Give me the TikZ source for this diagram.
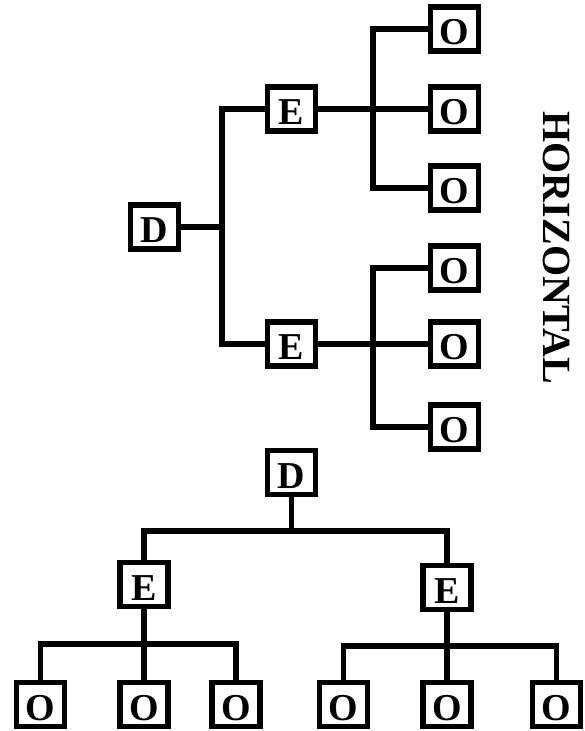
\documentclass[tikz,border=0pt]{standalone}
\usepackage{fontspec}
\setmainfont{Liberation Serif}
\begin{document}
\begin{tikzpicture}[x=1pt,y=-1pt,
  box/.style={draw, line width=5.2pt, minimum width=48pt, minimum height=44pt, inner sep=0pt,
    font=\bfseries\fontsize{38}{38}\selectfont, text height=31pt, text depth=0pt},
  conn/.style={line width=5.2pt, line join=miter}]
\useasboundingbox (0,0) rectangle (584,731);
% horizontal tree
\node[box] (D1) at (154.5,227) {D};
\node[box] (E1) at (291.5,109) {E};
\node[box] (E2) at (291.5,344) {E};
\node[box] (O1) at (454.5,29) {O};
\node[box] (O2) at (454.5,109) {O};
\node[box] (O3) at (454.5,188) {O};
\node[box] (O4) at (454.5,268) {O};
\node[box] (O5) at (454.5,344) {O};
\node[box] (O6) at (454.5,427) {O};
\coordinate (tj) at (222,227);
\coordinate (b1) at (373,109);
\coordinate (b2) at (373,344);
\draw[conn] (D1.east) -- (D1.east -| tj);
\draw[conn] (E1.west) -- (E1.west -| tj) -- (E2.west -| tj) -- (E2.west);
\draw[conn] (E1.east) -- (O2.west);
\draw[conn] (O1.west) -- (O1.west -| b1) -- (O3.west -| b1) -- (O3.west);
\draw[conn] (E2.east) -- (O5.west);
\draw[conn] (O4.west) -- (O4.west -| b2) -- (O6.west -| b2) -- (O6.west);
\node[font=\bfseries\fontsize{40}{40}\selectfont, rotate=-90, inner sep=0pt] (lab) at (556.5,248) {HORIZONTAL};
% vertical tree
\node[box] (D2) at (291.5,472.5) {D};
\node[box] (E3) at (144,584.5) {E};
\node[box] (E4) at (447,587.5) {E};
\node[box] (P1) at (40.5,704.5) {O};
\node[box] (P2) at (144,704.5) {O};
\node[box] (P3) at (236,704.5) {O};
\node[box] (P4) at (343.5,704.5) {O};
\node[box] (P5) at (447,704.5) {O};
\node[box] (P6) at (556.5,704.5) {O};
\coordinate (bj) at (291.5,531);
\coordinate (c1) at (144,644);
\coordinate (c2) at (447,646);
\draw[conn] (D2.south) -- (D2.south |- bj);
\draw[conn] (E3.north) -- (E3.north |- bj) -- (E4.north |- bj) -- (E4.north);
\draw[conn] (E3.south) -- (P2.north);
\draw[conn] (P1.north) -- (P1.north |- c1) -- (P3.north |- c1) -- (P3.north);
\draw[conn] (E4.south) -- (P5.north);
\draw[conn] (P4.north) -- (P4.north |- c2) -- (P6.north |- c2) -- (P6.north);
\end{tikzpicture}
\end{document}
